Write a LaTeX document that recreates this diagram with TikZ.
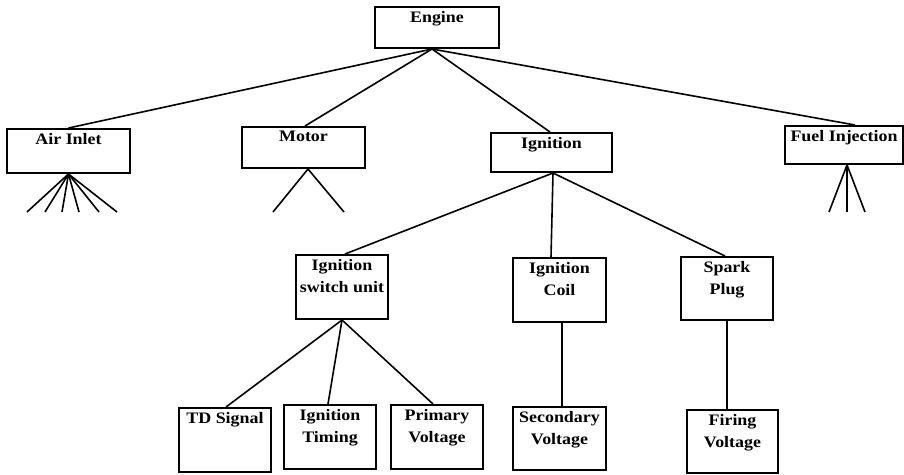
\documentclass[tikz,border=0pt]{standalone}
\usepackage{fontspec}
\setmainfont{Liberation Serif}[FakeStretch=1.12]
\begin{document}
\begin{tikzpicture}[x=1pt,y=-1pt,
  blk/.style={draw, line width=2pt, inner sep=0pt},
  ttl/.style={anchor=north, yshift=-5pt, inner sep=0pt, align=center,
    font=\fontsize{16}{22}\selectfont\bfseries},
  link/.style={line width=1.6pt}]
\useasboundingbox (0,0) rectangle (904,474);

% top level
\node[blk, minimum width=124pt, minimum height=41pt, label={[ttl]north:Engine}] (eng) at (437,27.5) {};

% second level
\node[blk, minimum width=123pt, minimum height=44pt, label={[ttl]north:Air Inlet}] (air) at (68.5,151) {};
\node[blk, minimum width=123pt, minimum height=41pt, label={[ttl]north:Motor}] (mot) at (303.5,147.5) {};
\node[blk, minimum width=121pt, minimum height=39pt, label={[ttl]north:Ignition}] (ign) at (551.5,152.5) {};
\node[blk, minimum width=118pt, minimum height=38pt, label={[ttl]north:Fuel Injection}] (fuel) at (844,145) {};

% ignition parts
\node[blk, minimum width=92pt, minimum height=64pt, label={[ttl]north:Ignition\\switch unit}] (isu) at (342,287) {};
\node[blk, minimum width=93pt, minimum height=64pt, label={[ttl]north:Ignition\\Coil}] (coil) at (559.5,290) {};
\node[blk, minimum width=92pt, minimum height=63pt, label={[ttl]north:Spark\\Plug}] (plug) at (727,288.5) {};

% signals and voltages
\node[blk, minimum width=92pt, minimum height=64pt, label={[ttl]north:TD Signal}] (tds) at (225,440) {};
\node[blk, minimum width=92pt, minimum height=64pt, label={[ttl]north:Ignition\\Timing}] (tim) at (330,437) {};
\node[blk, minimum width=92pt, minimum height=64pt, label={[ttl]north:Primary\\Voltage}] (pri) at (437,437) {};
\node[blk, minimum width=93pt, minimum height=63pt, label={[ttl]north:Secondary\\Voltage}] (sec) at (559.5,438.5) {};
\node[blk, minimum width=91pt, minimum height=63pt, label={[ttl]north:Firing\\Voltage}] (fir) at (732.5,441.5) {};

% loose ends below the unexpanded branches
\foreach \i/\x in {1/27,2/45,3/62,4/79,5/99,6/117} \coordinate (a\i) at (\x,212);
\coordinate (m1) at (273,212);
\coordinate (m2) at (344,212);
\coordinate (f1) at (829,212);
\coordinate (f2) at (847,212);
\coordinate (f3) at (865,212);

% connectors
\draw[link] ([xshift=-5pt]eng.south) -- (air.north);
\draw[link] ([xshift=-5pt]eng.south) -- ([xshift=1.5pt]mot.north);
\draw[link] ([xshift=-5pt]eng.south) -- ([xshift=-1.5pt]ign.north);
\draw[link] ([xshift=-5pt]eng.south) -- ([xshift=11pt]fuel.north);

\foreach \i in {1,...,6} \draw[link] (air.south) -- (a\i);
\draw[link] ([xshift=4.5pt]mot.south) -- (m1);
\draw[link] ([xshift=4.5pt]mot.south) -- (m2);
\foreach \i in {1,2,3} \draw[link] ([xshift=3pt]fuel.south) -- (f\i);

\draw[link] ([xshift=1.5pt]ign.south) -- ([xshift=3pt]isu.north);
\draw[link] ([xshift=1.5pt]ign.south) -- ([xshift=-8.5pt]coil.north);
\draw[link] ([xshift=1.5pt]ign.south) -- ([xshift=-2pt]plug.north);

\draw[link] (isu.south) -- ([xshift=1pt]tds.north);
\draw[link] (isu.south) -- ([xshift=-2pt]tim.north);
\draw[link] (isu.south) -- ([xshift=-4pt]pri.north);

\draw[link] ([xshift=2.5pt]coil.south) -- ([xshift=2.5pt]sec.north);
\draw[link] (plug.south) -- ([xshift=-5.5pt]fir.north);
\end{tikzpicture}
\end{document}
